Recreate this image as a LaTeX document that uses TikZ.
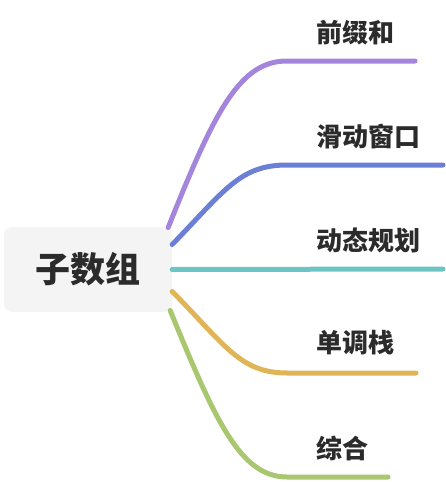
\documentclass[tikz,border=0pt]{standalone}
\usepackage{fontspec}
\newfontfamily\cjk{Noto Sans CJK SC}
\definecolor{boxgray}{HTML}{F4F4F4}
\definecolor{txtgray}{HTML}{2B2B2B}
\definecolor{cpurple}{HTML}{A386DC}
\definecolor{cblue}{HTML}{6B7FD7}
\definecolor{cteal}{HTML}{6CC4C4}
\definecolor{corange}{HTML}{E0B557}
\definecolor{cgreen}{HTML}{A9C76E}
\begin{document}
\begin{tikzpicture}[
  x=1pt, y=-1pt,
  root/.style={rectangle, rounded corners=8pt, fill=boxgray, minimum width=168pt, minimum height=85pt, font=\cjk\bfseries\fontsize{35}{40}\selectfont, text=txtgray},
  leaf/.style={anchor=west, inner sep=0pt, font=\cjk\bfseries\fontsize{26}{30}\selectfont, text=txtgray},
  branch/.style={line width=5pt, line cap=round, draw=#1}
]
\useasboundingbox (0,0) rectangle (446,482);
\node[root] (root) at (88,269.5) {子数组};

\node[leaf] (qzh) at (316,33) {前缀和};
\node[leaf] (hdck) at (316,137) {滑动窗口};
\node[leaf] (dtgh) at (316,240) {动态规划};
\node[leaf] (ddz) at (316,343) {单调栈};
\node[leaf] (zh) at (316,448) {综合};

\coordinate (e1) at (415,61);
\coordinate (e2) at (443,165);
\coordinate (e3) at (443,269);
\coordinate (e4) at (416,373);
\coordinate (e5) at (388,477);

\draw[branch=cpurple] ([xshift=-4pt,yshift=42pt]root.east) .. controls (215,110) and (240,61) .. (287,61) -- (e1);
\draw[branch=cblue] ([yshift=25pt]root.east) .. controls (225,190) and (240,165) .. (287,165) -- (e2);
\draw[branch=cteal] (root.east) -- (e3);
\draw[branch=corange] ([yshift=-22pt]root.east) .. controls (225,345) and (240,373) .. (287,373) -- (e4);
\draw[branch=cgreen] ([xshift=-2pt,yshift=-41pt]root.east) .. controls (215,420) and (240,477) .. (287,477) -- (e5);
\end{tikzpicture}
\end{document}
